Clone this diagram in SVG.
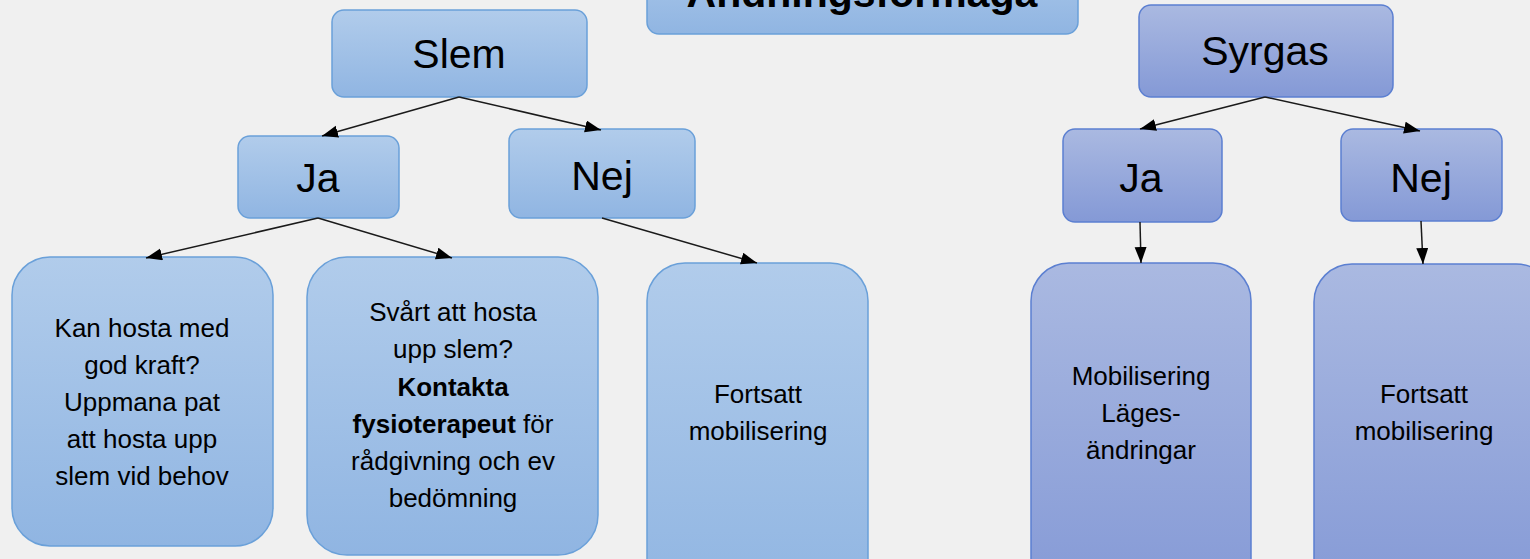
<svg xmlns="http://www.w3.org/2000/svg" width="1530" height="559" viewBox="0 0 1530 559">
<defs>
<linearGradient id="gA" x1="0" y1="0" x2="0" y2="1"><stop offset="0" stop-color="#b1cceb"/><stop offset="1" stop-color="#90b5e2"/></linearGradient>
<linearGradient id="gB" x1="0" y1="0" x2="0" y2="1"><stop offset="0" stop-color="#aab9e1"/><stop offset="1" stop-color="#8499d6"/></linearGradient>
<marker id="ah" markerUnits="userSpaceOnUse" markerWidth="17" markerHeight="13" refX="16" refY="6" orient="auto"><path d="M0,0 L16,6 L0,12 z" fill="#000"/></marker>
<style>
.a{fill:url(#gA);stroke:#6aa0d9;stroke-width:1.5}
.b{fill:url(#gB);stroke:#5b7fd1;stroke-width:1.5}
.big{font-family:"Liberation Sans",Arial,sans-serif;font-size:41px;fill:#000;text-anchor:middle}
.t{font-family:"Liberation Sans",Arial,sans-serif;font-size:26px;fill:#000;text-anchor:middle}
.bold{font-weight:bold}
.c{stroke:#1a1a1a;stroke-width:1.5;fill:none;marker-end:url(#ah)}
</style>
</defs>
<rect width="1530" height="559" fill="#f0f0f0"/>
<g id="title"><rect class="a" x="647" y="-60" width="431" height="94" rx="12"/><text class="big bold" x="862" y="7" font-size="42">Andningsförmåga</text></g>
<g id="slem"><rect class="a" x="332" y="10" width="255" height="87" rx="12"/><text class="big" x="459" y="68" font-size="42">Slem</text></g>
<g id="slem-ja"><rect class="a" x="238" y="136" width="161" height="82" rx="12"/><text class="big" x="318" y="192">Ja</text></g>
<g id="slem-nej"><rect class="a" x="509" y="129" width="186" height="89" rx="12"/><text class="big" x="602" y="190">Nej</text></g>
<g id="kan-hosta"><rect class="a" x="12" y="257" width="261" height="289" rx="38"/>
<text class="t" x="142" y="337">Kan hosta med</text><text class="t" x="142" y="374">god kraft?</text><text class="t" x="142" y="411">Uppmana pat</text><text class="t" x="142" y="448">att hosta upp</text><text class="t" x="142" y="485">slem vid behov</text></g>
<g id="svart-hosta"><rect class="a" x="307" y="257" width="291" height="298" rx="40"/>
<text class="t" x="453" y="321">Svårt att hosta</text><text class="t" x="453" y="358">upp slem?</text><text class="t bold" x="453" y="396">Kontakta</text><text class="t" x="453" y="433"><tspan class="bold">fysioterapeut</tspan> för</text><text class="t" x="453" y="470">rådgivning och ev</text><text class="t" x="453" y="507">bedömning</text></g>
<g id="fortsatt1"><rect class="a" x="647" y="263" width="221" height="340" rx="38"/>
<text class="t" x="758" y="403">Fortsatt</text><text class="t" x="758" y="440">mobilisering</text></g>
<g id="syrgas"><rect class="b" x="1139" y="5" width="254" height="92" rx="12"/><text class="big" x="1265" y="65">Syrgas</text></g>
<g id="syrgas-ja"><rect class="b" x="1063" y="129" width="159" height="93" rx="12"/><text class="big" x="1141" y="192">Ja</text></g>
<g id="syrgas-nej"><rect class="b" x="1341" y="129" width="161" height="92" rx="12"/><text class="big" x="1421" y="192">Nej</text></g>
<g id="mobilisering"><rect class="b" x="1031" y="263" width="220" height="340" rx="38"/>
<text class="t" x="1141" y="385">Mobilisering</text><text class="t" x="1141" y="422">Läges-</text><text class="t" x="1141" y="459">ändringar</text></g>
<g id="fortsatt2"><rect class="b" x="1314" y="264" width="240" height="340" rx="38"/>
<text class="t" x="1424" y="403">Fortsatt</text><text class="t" x="1424" y="440">mobilisering</text></g>
<g id="connectors">
<line class="c" x1="459" y1="97" x2="322" y2="136"/>
<line class="c" x1="459" y1="97" x2="601" y2="130"/>
<line class="c" x1="318" y1="218" x2="146" y2="258"/>
<line class="c" x1="318" y1="218" x2="452" y2="258"/>
<line class="c" x1="602" y1="218" x2="757" y2="263"/>
<line class="c" x1="1265" y1="97" x2="1140" y2="129"/>
<line class="c" x1="1265" y1="97" x2="1420" y2="131"/>
<line class="c" x1="1140" y1="222" x2="1141" y2="263"/>
<line class="c" x1="1421" y1="221" x2="1423" y2="264"/>
</g>
</svg>
